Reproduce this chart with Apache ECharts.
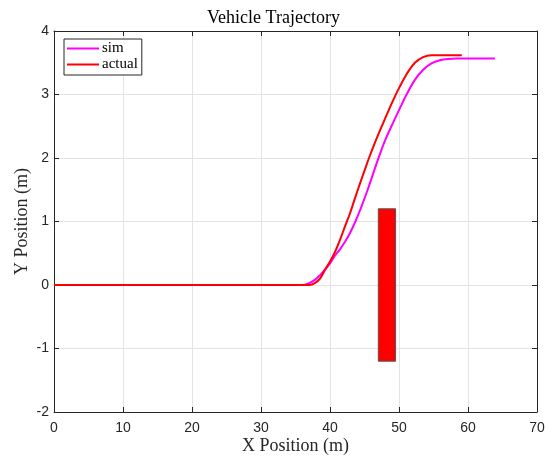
<!DOCTYPE html>
<html>
<head>
<meta charset="utf-8">
<script src="https://cdn.jsdelivr.net/npm/echarts@6/dist/echarts.min.js"></script>
<style>html,body{margin:0;padding:0;background:#fff}#c{width:547px;height:459px}</style>
</head>
<body>
<div id="c"></div>
<script>
var xTicks = [0, 10, 20, 30, 40, 50, 60, 70];
var yTicks = [-2, -1, 0, 1, 2, 3, 4];

var simX = [0, 36.0, 36.8, 37.8, 38.6, 39.27, 40.0, 40.72, 41.5, 42.17, 42.9, 43.6, 44.5, 45.46, 46.3, 47.0, 48.0, 49.2, 49.9, 51.1, 52.3, 53.5, 54.7, 55.9, 57.1, 58.4, 63.9];
var simY = [0, 0, 0.02, 0.08, 0.16, 0.24, 0.34, 0.46, 0.57, 0.68, 0.82, 0.98, 1.22, 1.50, 1.77, 1.99, 2.28, 2.57, 2.73, 3.00, 3.23, 3.39, 3.49, 3.54, 3.56, 3.565, 3.565];

var actualX = [0, 37.0, 37.8, 38.55, 39.27, 40.0, 40.72, 41.45, 42.2, 42.9, 43.6, 44.35, 45.0, 45.65, 46.5, 47.7, 48.7, 49.5, 50.0, 51.1, 52.3, 53.5, 54.7, 59.1];
var actualY = [0, 0, 0.03, 0.10, 0.24, 0.37, 0.52, 0.71, 0.93, 1.13, 1.36, 1.60, 1.80, 2.00, 2.24, 2.55, 2.80, 2.99, 3.10, 3.32, 3.50, 3.59, 3.62, 3.62];

// obstacle rectangle: [xMin, xMax, yMin, yMax]
var obstacle = [47.0, 49.5, -1.2, 1.2];

function zip(a, b) { return a.map(function (v, i) { return [v, b[i]]; }); }

var chart = echarts.init(document.getElementById('c'), null, { renderer: 'canvas' });
var serif = '"Liberation Serif", "DejaVu Serif", serif';
var sans = '"Liberation Sans", Arial, sans-serif';
var axisCol = '#262626';
var gridCol = '#e3e3e3';

function baseAxis(extra) {
  return Object.assign({
    type: 'value',
    nameMoveOverlap: false,
    axisLine: { show: true, onZero: false, lineStyle: { color: axisCol, width: 1 } },
    axisTick: { show: true, inside: true, length: 5, lineStyle: { color: axisCol } },
    splitLine: { show: false },
    axisLabel: { show: false }
  }, extra);
}

chart.setOption({
  animation: false,
  backgroundColor: '#fff',
  title: {
    text: 'Vehicle Trajectory',
    left: 'center',
    top: 9,
    textStyle: { fontFamily: serif, fontSize: 18, fontWeight: 'normal', color: '#000' },
    padding: 0
  },
  legend: {
    orient: 'vertical',
    left: 64,
    top: 39,
    data: ['sim', 'actual'],
    icon: 'rect',
    itemWidth: 32,
    itemHeight: 2,
    itemGap: 1,
    padding: [2, 4, 3, 3],
    borderColor: axisCol,
    borderWidth: 1,
    backgroundColor: '#fff',
    textStyle: { fontFamily: serif, fontSize: 15, color: '#000', padding: [0, 0, 0, -2] }
  },
  grid: { left: 54, right: 10, top: 31, bottom: 47, containLabel: false, outerBoundsMode: 'none' },
  xAxis: [
    baseAxis({
      min: xTicks[0], max: xTicks[xTicks.length - 1], interval: 10, position: 'bottom',
      splitLine: { show: true, lineStyle: { color: gridCol, width: 1 } },
      axisLabel: { show: true, fontFamily: sans, fontSize: 14, color: '#262626', margin: 9 },
      name: 'X Position (m)', nameLocation: 'middle', nameGap: 25,
      nameTextStyle: { fontFamily: serif, fontSize: 18, color: '#262626' }
    }),
    baseAxis({ min: xTicks[0], max: xTicks[xTicks.length - 1], interval: 10, position: 'top' })
  ],
  yAxis: [
    baseAxis({
      min: yTicks[0], max: yTicks[yTicks.length - 1], interval: 1, position: 'left',
      splitLine: { show: true, lineStyle: { color: gridCol, width: 1 } },
      axisLabel: { show: true, fontFamily: sans, fontSize: 14, color: '#262626', margin: 5 },
      name: 'Y Position (m)', nameLocation: 'middle', nameGap: 23, nameRotate: 90,
      nameTextStyle: { fontFamily: serif, fontSize: 18, color: '#262626' }
    }),
    baseAxis({ min: yTicks[0], max: yTicks[yTicks.length - 1], interval: 1, position: 'right' })
  ],
  series: [
    {
      name: 'obstacle', type: 'custom', xAxisIndex: 0, yAxisIndex: 0, z: 3,
      data: [obstacle],
      renderItem: function (params, api) {
        var p0 = api.coord([api.value(0), api.value(3)]);
        var p1 = api.coord([api.value(1), api.value(2)]);
        return {
          type: 'rect',
          shape: { x: p0[0], y: p0[1], width: p1[0] - p0[0], height: p1[1] - p0[1] },
          style: { fill: '#ff0000', stroke: '#555555', lineWidth: 1 }
        };
      },
      encode: { x: [0, 1], y: [2, 3] },
      silent: true
    },
    {
      name: 'sim', type: 'line', data: zip(simX, simY), showSymbol: false, symbol: 'none',
      smooth: 0.35,
      lineStyle: { color: '#ff00ff', width: 2 }, itemStyle: { color: '#ff00ff' }, z: 4
    },
    {
      name: 'actual', type: 'line', data: zip(actualX, actualY), showSymbol: false, symbol: 'none',
      smooth: 0.35,
      lineStyle: { color: '#ff0000', width: 2 }, itemStyle: { color: '#ff0000' }, z: 5
    }
  ]
});
</script>
</body>
</html>
